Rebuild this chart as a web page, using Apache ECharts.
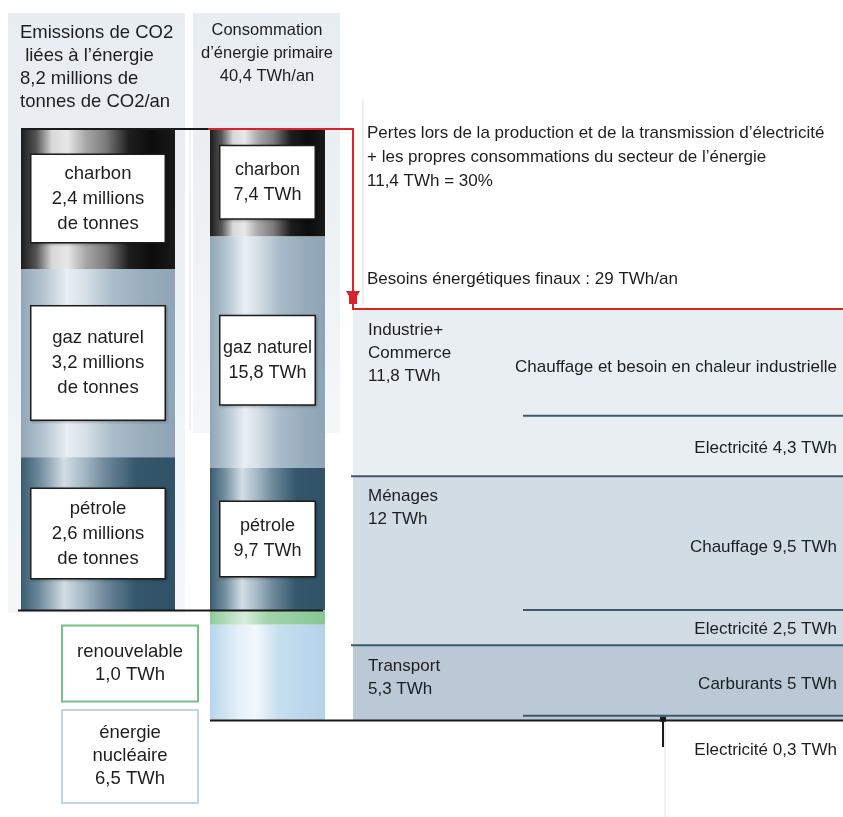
<!DOCTYPE html>
<html>
<head>
<meta charset="utf-8">
<script src="https://cdn.jsdelivr.net/npm/echarts@6/dist/echarts.min.js"></script>
<style>
  html, body { margin: 0; padding: 0; background: #fff; }
  #main { width: 843px; height: 817px; }
</style>
</head>
<body>
<div id="main"></div>
<script>
// emissions de CO2 (millions de tonnes)
const co2Names = ['charbon', 'gaz naturel', 'pétrole'];
const co2Values = [2.4, 3.2, 2.6];
const co2Total = 8.2;

// consommation d'énergie primaire (TWh)
const energyNames = ['charbon', 'gaz naturel', 'pétrole', 'renouvelable', 'énergie\nnucléaire'];
const energyValues = [7.4, 15.8, 9.7, 1.0, 6.5];
const energyTotal = 40.4;

// besoins énergétiques finaux (TWh)
const sectorNames = ['Industrie+\nCommerce', 'Ménages', 'Transport'];
const heatNames = ['Chauffage et besoin en chaleur industrielle', 'Chauffage', 'Carburants'];
const heatValues = [7.5, 9.5, 5.0];
const elecValues = [4.3, 2.5, 0.3];
const lossValue = 11.4;
const lossShare = 30;
const finalTotal = 29;

const FONT = '"Liberation Sans", Arial, sans-serif';
const fr1 = v => v.toFixed(1).replace('.', ',');
const fr = v => String(Math.round(v * 10) / 10).replace('.', ',');

const grad = stops => new echarts.graphic.LinearGradient(0, 0, 1, 0,
  stops.map(s => ({ offset: s[0], color: s[1] })));

const fills = {
  charbon: [[0, '#1c1c1c'], [0.1, '#555'], [0.2, '#d8d8d8'], [0.3, '#e8e8e8'], [0.42, '#a8a8a8'],
    [0.55, '#7c7c7c'], [0.7, '#1e1e1e'], [0.85, '#0c0c0c'], [1, '#1a1a1a']],
  gaz: [[0, '#91a6b6'], [0.15, '#b6c6d2'], [0.3, '#e9eff3'], [0.42, '#d5dfe6'], [0.6, '#aabcc9'],
    [0.8, '#98adbc'], [1, '#8fa4b4']],
  petrole: [[0, '#3b5c70'], [0.12, '#6e8b9c'], [0.28, '#d2dde4'], [0.4, '#a8bbc7'], [0.55, '#6d889a'],
    [0.75, '#34576b'], [1, '#2f5266']],
  renouv: [[0, '#8ecb9a'], [0.3, '#d8eedc'], [0.5, '#a2d4ac'], [1, '#86c793']],
  nucl: [[0, '#b8d6ed'], [0.25, '#e5f0f9'], [0.4, '#f3f8fc'], [0.6, '#c6deef'], [1, '#b4d2ea']]
};
const co2Fills = [fills.charbon, fills.gaz, fills.petrole];
const energyFills = [fills.charbon, fills.gaz, fills.petrole, fills.renouv, fills.nucl];
const sectorFills = ['#e9eef2', '#d1dce4', '#bac9d5'];
const lineDark = '#3d5a6b';

function boxLabel(text, w, pad, size, border, extra) {
  return Object.assign({
    show: true, position: 'inside', formatter: text, width: w, padding: [pad, 0],
    backgroundColor: '#fff', borderColor: border, borderWidth: 1.5,
    color: '#1e1e1e', fontSize: size, lineHeight: 25, fontFamily: FONT, align: 'center',
    shadowBlur: 3, shadowColor: 'rgba(0,0,0,0.25)', shadowOffsetX: 1, shadowOffsetY: 1
  }, extra || {});
}

const co2Pads = [6, 19, 7];
const co2Series = co2Values.map((v, i) => ({
  type: 'bar', name: co2Names[i], xAxisIndex: 0, yAxisIndex: 0, stack: 'co2',
  barWidth: '100%', data: [v], itemStyle: { color: grad(co2Fills[i]) },
  label: boxLabel(co2Names[i] + '\n' + fr1(v) + ' millions\nde tonnes', 133, co2Pads[i], 18.5, '#1e1e1e')
}));

const outsideBox = { position: 'left', distance: 11, borderWidth: 2, lineHeight: 23,
  shadowBlur: 0, shadowOffsetX: 0, shadowOffsetY: 0, shadowColor: 'transparent' };
const energyLabels = [
  boxLabel(energyNames[0] + '\n' + fr1(energyValues[0]) + ' TWh', 94, 11, 18, '#1e1e1e'),
  boxLabel(energyNames[1] + '\n' + fr1(energyValues[1]) + ' TWh', 94, 19, 18, '#1e1e1e', { offset: [0, 8] }),
  boxLabel(energyNames[2] + '\n' + fr1(energyValues[2]) + ' TWh', 94, 12, 18, '#1e1e1e'),
  boxLabel(energyNames[3] + '\n' + fr1(energyValues[3]) + ' TWh', 134, 14, 18.5, '#76bf88',
    Object.assign({ offset: [-69, 46] }, outsideBox)),
  boxLabel(energyNames[4] + '\n' + fr1(energyValues[4]) + ' TWh', 134, 11, 18.5, '#b9d6ec',
    Object.assign({ offset: [-69, 84] }, outsideBox))
];
const energySeries = energyValues.map((v, i) => ({
  type: 'bar', name: energyNames[i], xAxisIndex: 1, yAxisIndex: 1, stack: 'energy',
  barWidth: '100%', data: [v], itemStyle: { color: grad(energyFills[i]) },
  label: energyLabels[i]
}));

const starts = [];
let acc = 0;
heatValues.forEach((h, i) => { starts.push(acc); acc += h + elecValues[i]; });
const finalSum = acc;

const textStyle = (text, extra) => Object.assign({
  text: text, fill: '#1e1e1e', fontSize: 17, fontFamily: FONT, lineHeight: 23
}, extra || {});

const finalSeries = {
  type: 'custom', xAxisIndex: 2, yAxisIndex: 2,
  data: heatValues.map((h, i) => [0, starts[i], h, elecValues[i]]),
  encode: { x: 0, y: 1 },
  renderItem: function (params, api) {
    const i = params.dataIndex;
    const cs = params.coordSys;
    const s = api.value(1), h = api.value(2), e = api.value(3);
    const y0 = api.coord([0, s])[1];
    const y1 = api.coord([0, s + h])[1];
    const y2 = api.coord([0, s + h + e])[1];
    const right = cs.x + cs.width;
    const children = [
      { type: 'rect', shape: { x: cs.x, y: y0, width: cs.width, height: y2 - y0 },
        style: { fill: sectorFills[i] } },
      { type: 'line', shape: { x1: cs.x + 170, y1: y1, x2: right, y2: y1 },
        style: { stroke: lineDark, lineWidth: 2 } },
      { type: 'text', x: cs.x + 15, y: y0 + 9,
        style: textStyle(sectorNames[i] + '\n' + fr(h + e) + ' TWh') },
      { type: 'text', x: right - 6, y: (y0 + y1) / 2 + 4,
        style: textStyle(i === 0 ? heatNames[i] : heatNames[i] + ' ' + fr(h) + ' TWh',
          { align: 'right', verticalAlign: 'middle' }) }
    ];
    if (i > 0) {
      children.push({ type: 'line', shape: { x1: cs.x - 2, y1: y0, x2: right, y2: y0 },
        style: { stroke: lineDark, lineWidth: 2 } });
    }
    const elecText = 'Electricité ' + fr(e) + ' TWh';
    if (y2 - y1 > 20) {
      children.push({ type: 'text', x: right - 6, y: (y1 + y2) / 2 + 2,
        style: textStyle(elecText, { align: 'right', verticalAlign: 'middle' }) });
    } else {
      const ax = cs.x + 310;
      children.push(
        { type: 'line', shape: { x1: ax + 2, y1: y2, x2: ax + 2, y2: 817 },
          style: { stroke: '#e2e2e2', lineWidth: 1 } },
        { type: 'line', shape: { x1: ax, y1: y2 + 27, x2: ax, y2: y1 + 2 },
          style: { stroke: '#1a1a1a', lineWidth: 2 } },
        { type: 'rect', shape: { x: ax - 3, y: y1 + 1, width: 6, height: 5 },
          style: { fill: '#1a1a1a' } },
        { type: 'text', x: right - 6, y: y2 + 30,
          style: textStyle(elecText, { align: 'right', verticalAlign: 'middle' }) }
      );
    }
    return { type: 'group', children: children };
  }
};

const panelFill = new echarts.graphic.LinearGradient(0, 0, 0, 1, [
  { offset: 0, color: '#e8edf1' }, { offset: 0.25, color: '#eaeef2' }, { offset: 1, color: '#f5f7f9' }
]);
const red = '#d8232a';

const option = {
  animation: false,
  backgroundColor: '#ffffff',
  grid: [
    { left: 21, top: 128, width: 154, height: 482 },
    { left: 210, top: 128, width: 115, height: 592 },
    { left: 353, top: 310, width: 490, height: 410 }
  ],
  xAxis: [0, 1, 2].map(i => ({ type: 'category', gridIndex: i, data: [''], show: false })),
  yAxis: [
    { type: 'value', gridIndex: 0, inverse: true, min: 0, max: co2Total, show: false },
    { type: 'value', gridIndex: 1, inverse: true, min: 0, max: energyTotal, show: false },
    { type: 'value', gridIndex: 2, inverse: true, min: 0, max: finalSum, show: false }
  ],
  graphic: [
    { type: 'rect', z: -10, shape: { x: 8, y: 13, width: 177, height: 600 }, style: { fill: panelFill } },
    { type: 'rect', z: -10, shape: { x: 193, y: 13, width: 147, height: 420 }, style: { fill: panelFill } },
    { type: 'line', z: -9, shape: { x1: 190, y1: 130, x2: 190, y2: 430 }, style: { stroke: '#e0e4e8', lineWidth: 1 } },
    { type: 'line', z: -9, shape: { x1: 363, y1: 100, x2: 363, y2: 305 }, style: { stroke: '#dcdcdc', lineWidth: 1 } },
    { type: 'text', z: 5, x: 20, y: 21,
      style: textStyle('Emissions de CO2\n liées à l’énergie\n' + fr1(co2Total) + ' millions de\ntonnes de CO2/an',
        { fontSize: 18.5, lineHeight: 23 }) },
    { type: 'text', z: 5, x: 267, y: 19,
      style: textStyle('Consommation\nd’énergie primaire\n' + fr1(energyTotal) + ' TWh/an',
        { fontSize: 16.5, lineHeight: 23, align: 'center' }) },
    { type: 'text', z: 5, x: 367, y: 121,
      style: textStyle('Pertes lors de la production et de la transmission d’électricité\n+ les propres consommations du secteur de l’énergie\n'
        + fr(lossValue) + ' TWh = ' + lossShare + '%', { lineHeight: 24 }) },
    { type: 'text', z: 5, x: 367, y: 267,
      style: textStyle('Besoins énergétiques finaux : ' + finalTotal + ' TWh/an', { lineHeight: 24 }) },
    { type: 'line', z: 20, shape: { x1: 21, y1: 129, x2: 208, y2: 129 }, style: { stroke: '#1a1a1a', lineWidth: 2 } },
    { type: 'polyline', z: 20, shape: { points: [[208, 129], [353, 129], [353, 309], [843, 309]] },
      style: { stroke: red, lineWidth: 2, fill: null } },
    { type: 'polygon', z: 21, shape: { points: [[346, 291], [360, 291], [353, 303]] }, style: { fill: red } },
    { type: 'rect', z: 21, shape: { x: 349, y: 296, width: 8, height: 8 }, style: { fill: red } },
    { type: 'line', z: 20, shape: { x1: 18, y1: 610.5, x2: 323, y2: 610.5 }, style: { stroke: '#1a1a1a', lineWidth: 2 } },
    { type: 'line', z: 20, shape: { x1: 210, y1: 720.5, x2: 843, y2: 720.5 }, style: { stroke: '#1a1a1a', lineWidth: 2 } }
  ],
  series: [].concat(co2Series, energySeries, [finalSeries])
};

const myChart = echarts.init(document.getElementById('main'));
myChart.setOption(option);
</script>
</body>
</html>
